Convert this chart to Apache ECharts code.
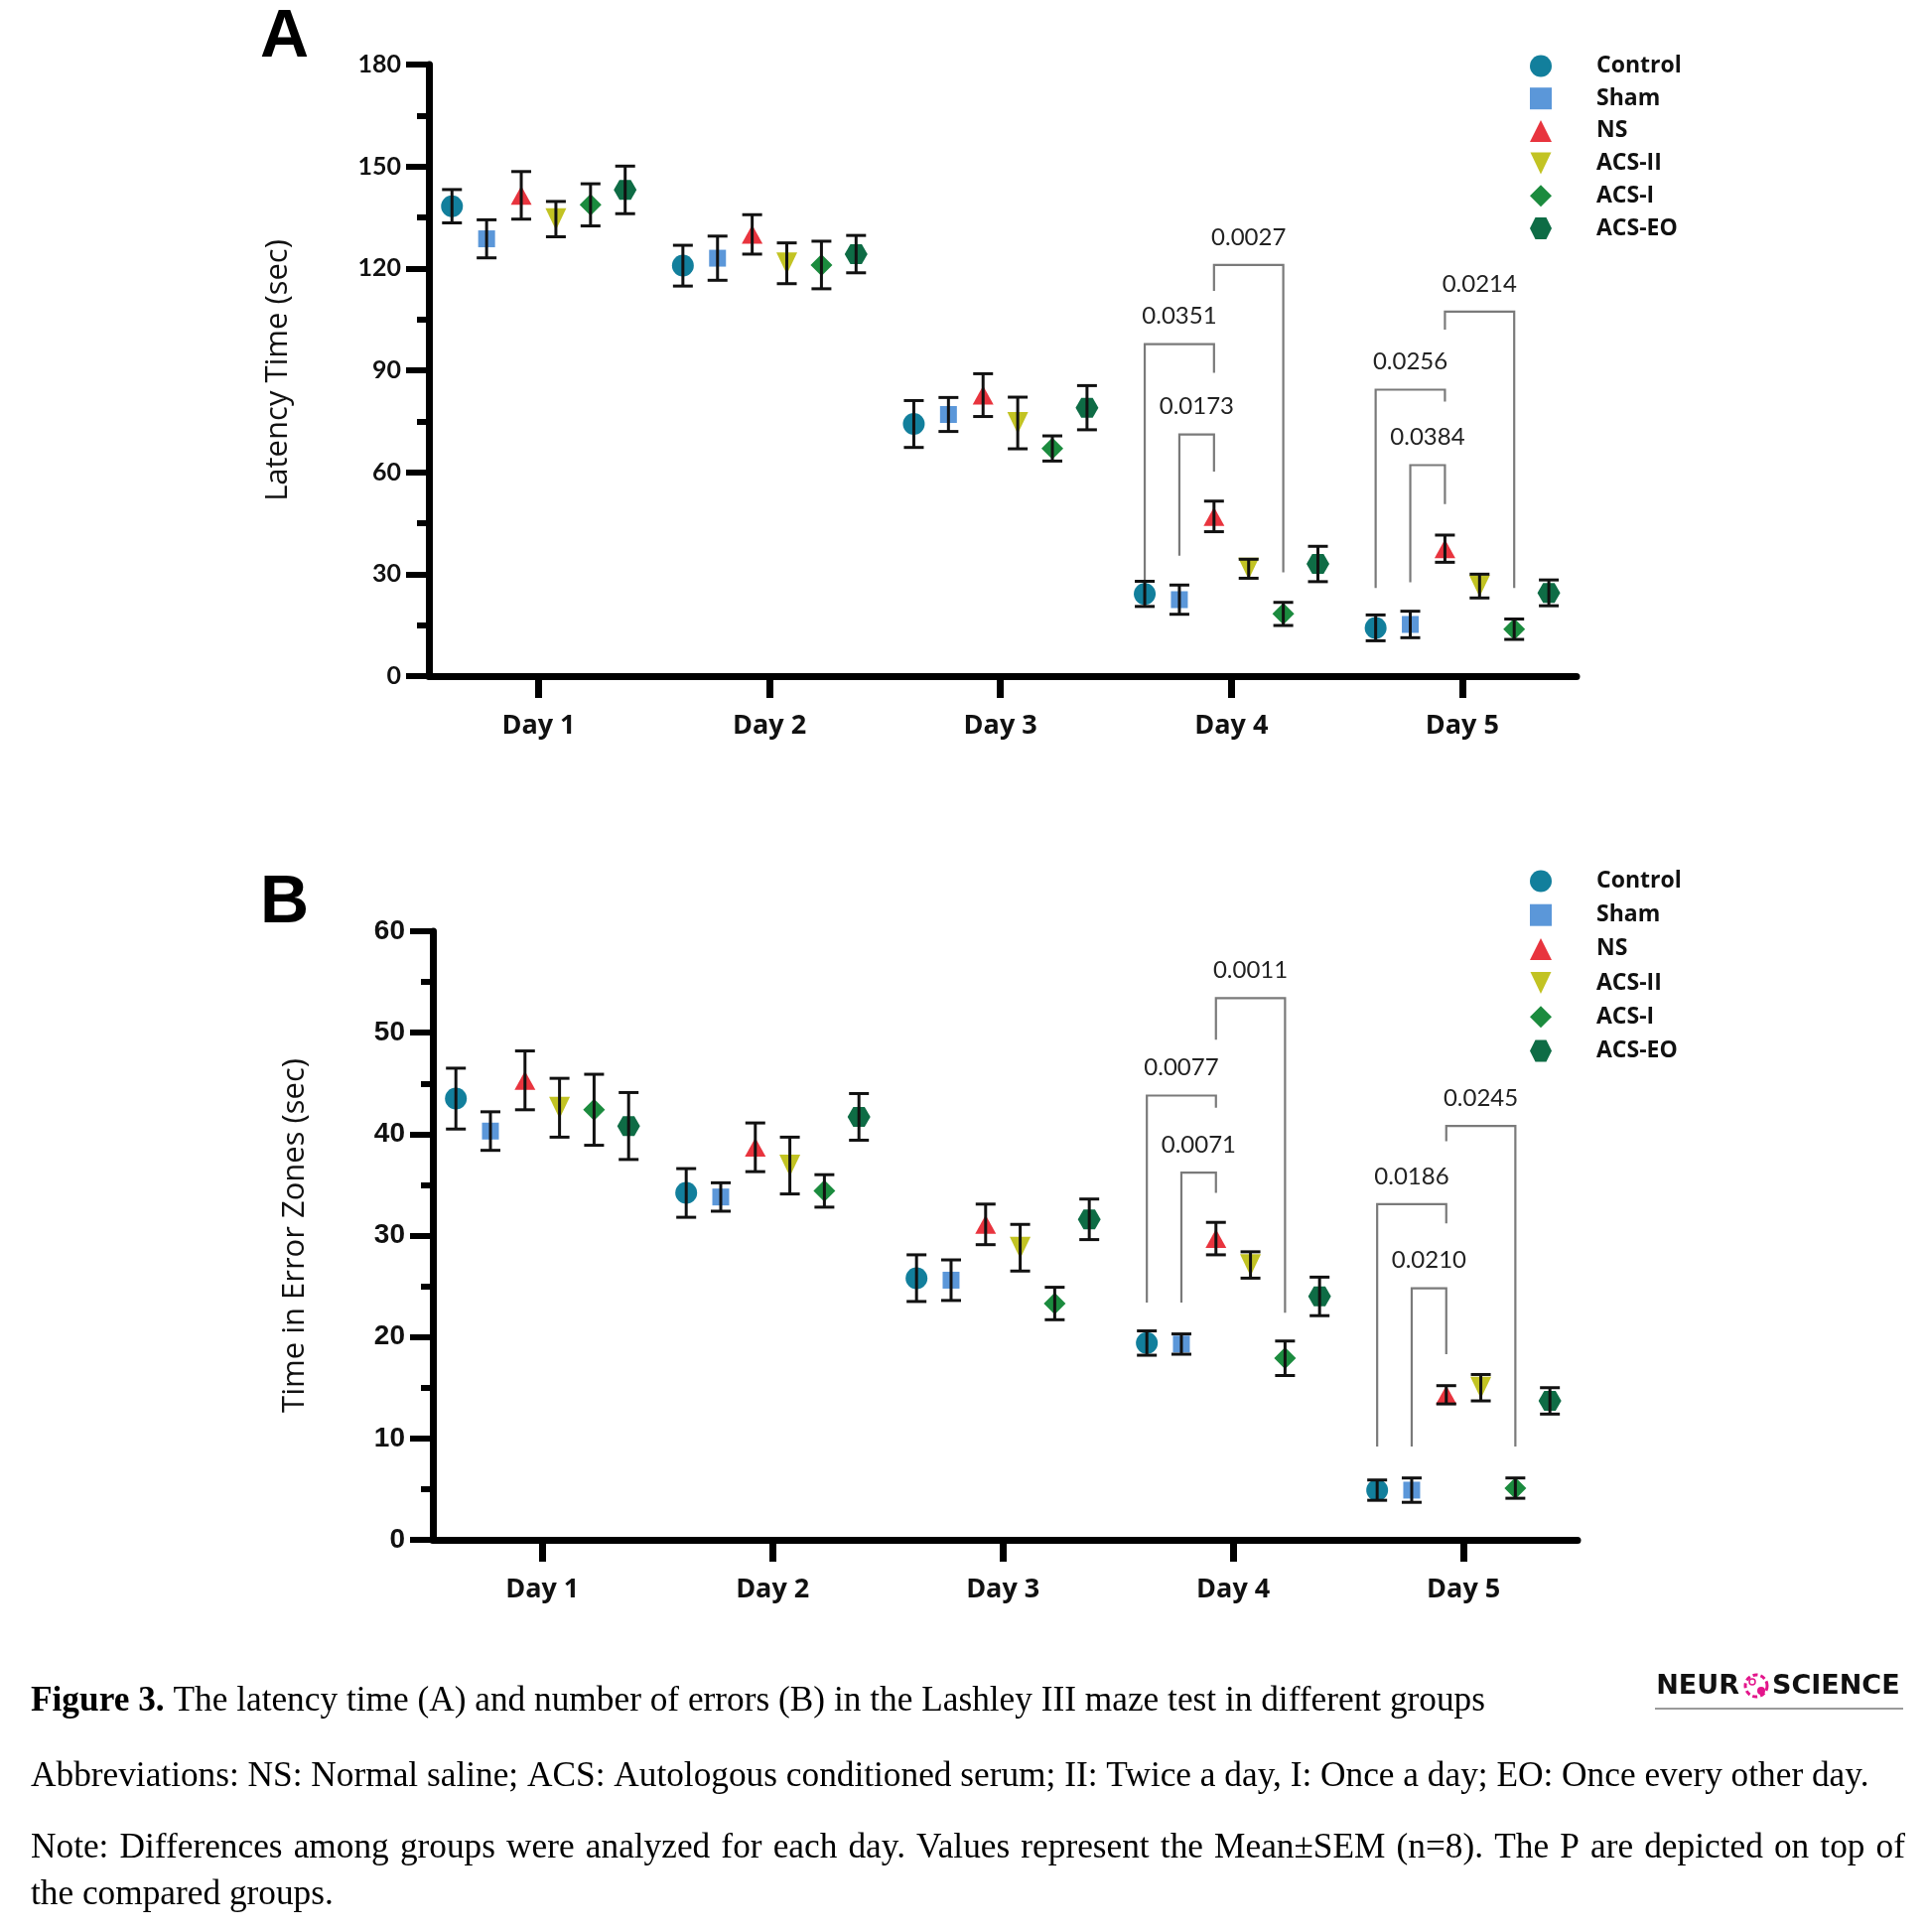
<!DOCTYPE html>
<html><head><meta charset="utf-8">
<script src="https://cdn.jsdelivr.net/npm/echarts@6/dist/echarts.min.js"></script>
<style>html,body{margin:0;padding:0;background:#fff}#chart{width:1941px;height:1946px}</style>
</head><body><div id="chart"></div>
<script>
// ---------- data ----------
const groups = ['Control', 'Sham', 'NS', 'ACS-II', 'ACS-I', 'ACS-EO'];
const days = [1, 2, 3, 4, 5];
const dayLabels = ['Day 1', 'Day 2', 'Day 3', 'Day 4', 'Day 5'];
const latencyTicks = [0, 30, 60, 90, 120, 150, 180];
const errorTicks = [0, 10, 20, 30, 40, 50, 60];

// Panel A: latency time (sec), mean per day
const latControl = [138.3, 120.8, 74.2, 24.2, 14.2];
const latSham    = [128.7, 123.0, 77.0, 22.5, 15.2];
const latNS      = [141.5, 130.0, 82.7, 47.0, 37.5];
const latACSII   = [134.5, 121.5, 74.5, 31.6, 26.5];
const latACSI    = [138.7, 121.0, 67.0, 18.3, 13.8];
const latACSEO   = [143.1, 124.2, 79.0, 33.0, 24.5];
// Panel A: SEM
const latControlSem = [4.9, 6.0, 6.9, 3.7, 3.8];
const latShamSem    = [5.6, 6.5, 5.0, 4.3, 3.9];
const latNSSem      = [7.0, 5.8, 6.3, 4.5, 4.0];
const latACSIISem   = [5.2, 6.0, 7.6, 2.8, 3.5];
const latACSISem    = [6.2, 7.0, 3.7, 3.4, 3.0];
const latACSEOSem   = [7.0, 5.5, 6.5, 5.2, 3.8];

// Panel B: time in error zones (sec), mean per day
const errControl = [43.5, 34.2, 25.8, 19.4, 4.9];
const errSham    = [40.3, 33.8, 25.6, 19.3, 4.9];
const errNS      = [45.3, 38.7, 31.1, 29.7, 14.3];
const errACSII   = [42.6, 36.9, 28.8, 27.1, 15.0];
const errACSI    = [42.4, 34.4, 23.3, 17.9, 5.1];
const errACSEO   = [40.8, 41.7, 31.6, 24.0, 13.7];
// Panel B: SEM
const errControlSem = [3.0, 2.4, 2.3, 1.2, 1.0];
const errShamSem    = [1.9, 1.4, 2.0, 1.0, 1.2];
const errNSSem      = [2.9, 2.4, 2.0, 1.6, 0.9];
const errACSIISem   = [2.9, 2.8, 2.3, 1.3, 1.3];
const errACSISem    = [3.5, 1.6, 1.6, 1.7, 1.0];
const errACSEOSem   = [3.3, 2.3, 2.0, 1.9, 1.3];

// significance brackets: [day, fromGroup, toGroup, bracketTop, leftLegEnd, rightLegEnd]
const latBrackets = [
  [4, 0, 2, 97.7, 27.6, 89.3],
  [4, 1, 2, 71.1, 35.4, 60.2],
  [4, 2, 4, 121.0, 113.4, 30.5],
  [5, 0, 2, 84.3, 25.9, 80.8],
  [5, 1, 2, 62.1, 27.6, 50.6],
  [5, 2, 4, 107.3, 102.0, 25.9]
];
const latPValues = ['0.0351', '0.0173', '0.0027', '0.0256', '0.0384', '0.0214'];
const errBrackets = [
  [4, 0, 2, 43.8, 23.4, 42.6],
  [4, 1, 2, 36.2, 23.4, 34.2],
  [4, 2, 4, 53.4, 49.3, 22.4],
  [5, 0, 2, 33.1, 9.2, 31.2],
  [5, 1, 2, 24.8, 9.2, 18.3],
  [5, 2, 4, 40.8, 39.3, 9.2]
];
const errPValues = ['0.0077', '0.0071', '0.0011', '0.0186', '0.0210', '0.0245'];

const captionLine1 = '{b|Figure 3.} The latency time (A) and number of errors (B) in the Lashley III maze test in different groups';
const captionLine2 = 'Abbreviations: NS: Normal saline; ACS: Autologous conditioned serum; II: Twice a day, I: Once a day; EO: Once every other day.';
const captionLine3 = 'Note: Differences among groups were analyzed for each day. Values represent the Mean\u00b1SEM (n=8). The P are depicted on top of';
const captionLine4 = 'the compared groups.';

// ---------- styles ----------
const groupOffsets = [-0.375, -0.225, -0.075, 0.075, 0.225, 0.375];
const groupColors = ['#127f9c', '#5b97d9', '#e8343e', '#c2c323', '#1b8b3e', '#0e6c45'];
const groupSymbols = ['circle', 'rect', 'triangle', 'path://M0,0 L20,0 L10,21 Z', 'diamond',
  'path://M0,50 L25,0 L75,0 L100,50 L75,100 L25,100 Z'];
const groupSizes = [22, 17, [21, 19], [21, 22], [22, 22], [23, 20]];

const latMeans = [latControl, latSham, latNS, latACSII, latACSI, latACSEO];
const latSems = [latControlSem, latShamSem, latNSSem, latACSIISem, latACSISem, latACSEOSem];
const errMeans = [errControl, errSham, errNS, errACSII, errACSI, errACSEO];
const errSems = [errControlSem, errShamSem, errNSSem, errACSIISem, errACSISem, errACSEOSem];

function errorBarRender(params, api) {
  const x = api.value(0), m = api.value(1), s = api.value(2);
  const t = api.coord([x, m + s]), b = api.coord([x, m - s]);
  const hw = 10;
  const st = { stroke: '#111', lineWidth: 3 };
  return { type: 'group', children: [
    { type: 'line', shape: { x1: t[0], y1: t[1], x2: b[0], y2: b[1] }, style: st },
    { type: 'line', shape: { x1: t[0] - hw, y1: t[1], x2: t[0] + hw, y2: t[1] }, style: st },
    { type: 'line', shape: { x1: b[0] - hw, y1: b[1], x2: b[0] + hw, y2: b[1] }, style: st }
  ]};
}
function bracketRender(labels) {
  return function (params, api) {
    const xl = api.value(0), xr = api.value(1), top = api.value(2), le = api.value(3), re = api.value(4);
    const p1 = api.coord([xl, le]), p2 = api.coord([xl, top]), p3 = api.coord([xr, top]), p4 = api.coord([xr, re]);
    return { type: 'group', children: [
      { type: 'polyline', shape: { points: [p1, p2, p3, p4] }, style: { stroke: '#7a7a7a', lineWidth: 2.2, fill: null } },
      { type: 'text', style: { text: labels[params.dataIndex], x: (p2[0] + p3[0]) / 2, y: p2[1] - 28,
        textAlign: 'center', textVerticalAlign: 'middle', fontFamily: 'Lato', fontSize: 24, fill: '#222' } }
    ]};
  };
}

const series = [];
function addPanel(idx, means, sems, brackets, pvals) {
  groups.forEach((g, gi) => {
    series.push({
      type: 'scatter', name: g, xAxisIndex: idx, yAxisIndex: idx,
      symbol: groupSymbols[gi], symbolSize: groupSizes[gi], symbolKeepAspect: false,
      itemStyle: { color: groupColors[gi], opacity: 1 },
      data: days.map((d, di) => [d + groupOffsets[gi], means[gi][di]]),
      z: 3, silent: true
    });
  });
  groups.forEach((g, gi) => {
    series.push({
      type: 'custom', xAxisIndex: idx, yAxisIndex: idx, z: 4, silent: true,
      renderItem: errorBarRender,
      encode: { x: 0, y: [1] },
      data: days.map((d, di) => [d + groupOffsets[gi], means[gi][di], sems[gi][di]])
    });
  });
  series.push({
    type: 'custom', xAxisIndex: idx, yAxisIndex: idx, z: 2, silent: true,
    renderItem: bracketRender(pvals),
    encode: { x: [0, 1], y: [2] },
    data: brackets.map(b => [b[0] + groupOffsets[b[1]], b[0] + groupOffsets[b[2]], b[3], b[4], b[5]])
  });
}
addPanel(0, latMeans, latSems, latBrackets, latPValues);
addPanel(1, errMeans, errSems, errBrackets, errPValues);

function xAxisCfg(idx) {
  return {
    type: 'value', gridIndex: idx, min: 0.525, max: 5.495,
    axisLine: { show: true, lineStyle: { color: '#000', width: 7 } },
    axisTick: { show: true, customValues: days, length: 22, lineStyle: { color: '#000', width: 7 } },
    axisLabel: { show: true, customValues: days, margin: 37, fontFamily: 'Open Sans', fontWeight: 'bold', fontSize: 27, color: '#111',
      formatter: v => dayLabels[days.indexOf(v)] },
    splitLine: { show: false }
  };
}
function yAxisCfg(idx, ticks, name, gap, labelFont) {
  return {
    type: 'value', gridIndex: idx, min: ticks[0], max: ticks[ticks.length - 1], interval: ticks[1] - ticks[0],
    name: name, nameLocation: 'middle', nameGap: gap,
    nameTextStyle: { fontFamily: 'Open Sans', fontSize: 31, color: '#111' },
    axisLine: { show: true, lineStyle: { color: '#000', width: 7 } },
    axisTick: { show: true, length: 23, lineStyle: { color: '#000', width: 6 } },
    minorTick: { show: true, splitNumber: 2, length: 12, lineStyle: { color: '#000', width: 6 } },
    axisLabel: Object.assign({ margin: 28, color: '#111' }, labelFont),
    splitLine: { show: false }
  };
}

const capCtx = document.createElement('canvas').getContext('2d');
capCtx.font = '100px "Liberation Serif"';
const capSize = Math.round(100 * 1851 / capCtx.measureText(captionLine2).width * 10) / 10;
const capStyle = { fontFamily: 'Liberation Serif', fontSize: capSize, fill: '#000', textVerticalAlign: 'middle', textAlign: 'left' };

// justified line: distribute words over the target width
function justifiedLine(text, x, y, width) {
  capCtx.font = capSize + 'px "Liberation Serif"';
  const words = text.split(' ');
  const widths = words.map(w => capCtx.measureText(w).width);
  const total = widths.reduce((a, b) => a + b, 0);
  const gap = (width - total) / (words.length - 1);
  const out = [];
  let cx = x;
  words.forEach((w, i) => {
    out.push({ type: 'text', style: Object.assign({ text: w, x: cx, y: y }, capStyle) });
    cx += widths[i] + gap;
  });
  return out;
}

const legendText = { fontFamily: 'Open Sans', fontWeight: 'bold', fontSize: 23, color: '#111', padding: [0, 0, 0, 40] };

const option = {
  animation: false,
  backgroundColor: '#fff',
  grid: [
    { left: 432, top: 65, width: 1156, height: 616 },
    { left: 436, top: 938, width: 1153, height: 613 }
  ],
  xAxis: [xAxisCfg(0), xAxisCfg(1)],
  yAxis: [
    yAxisCfg(0, latencyTicks, 'Latency Time (sec)', 136, { fontFamily: 'Lato', fontWeight: 'bold', fontSize: 25 }),
    yAxisCfg(1, errorTicks, 'Time in Error Zones (sec)', 123, { fontFamily: 'Liberation Sans', fontWeight: 'bold', fontSize: 28 })
  ],
  legend: [
    { left: 1541, top: 55, orient: 'vertical', itemWidth: 22, itemHeight: 22, itemGap: 9.7, padding: 0,
      selectedMode: false, data: groups, textStyle: legendText },
    { left: 1541, top: 876, orient: 'vertical', itemWidth: 22, itemHeight: 22, itemGap: 11.2, padding: 0,
      selectedMode: false, data: groups, textStyle: legendText }
  ],
  series: series,
  graphic: [
    { type: 'text', style: { text: 'A', x: 262, y: 38, fontFamily: 'Liberation Sans', fontWeight: 'bold', fontSize: 68, fill: '#000', textVerticalAlign: 'middle' } },
    { type: 'text', style: { text: 'B', x: 262, y: 910, fontFamily: 'Liberation Sans', fontWeight: 'bold', fontSize: 68, fill: '#000', textVerticalAlign: 'middle' } },
    { type: 'text', style: Object.assign({ text: captionLine1, x: 31, y: 1714, rich: { b: { fontFamily: 'Liberation Serif', fontWeight: 'bold', fontSize: capSize, fill: '#000' } } }, capStyle) },
    { type: 'text', style: Object.assign({ text: captionLine2, x: 31, y: 1790 }, capStyle) },
    ...justifiedLine(captionLine3, 31, 1862, 1888),
    { type: 'text', style: Object.assign({ text: captionLine4, x: 31, y: 1909 }, capStyle) },
    { type: 'text', style: { text: 'NEUR', x: 1752, y: 1699, textAlign: 'right', textVerticalAlign: 'middle', fontFamily: 'DejaVu Sans', fontWeight: 'bold', fontSize: 27, fill: '#111' } },
    { type: 'text', style: { text: 'SCIENCE', x: 1785, y: 1699, textAlign: 'left', textVerticalAlign: 'middle', fontFamily: 'DejaVu Sans', fontWeight: 'bold', fontSize: 27, fill: '#111' } },
    { type: 'circle', shape: { cx: 1769, cy: 1698, r: 11 }, style: { fill: null, stroke: '#e3158b', lineWidth: 3, lineDash: [5, 3] } },
    { type: 'circle', shape: { cx: 1774, cy: 1703, r: 4 }, style: { fill: '#e3158b' } },
    { type: 'circle', shape: { cx: 1765, cy: 1694, r: 3 }, style: { fill: null, stroke: '#e3158b', lineWidth: 1.5 } },
    { type: 'line', shape: { x1: 1667, y1: 1721, x2: 1917, y2: 1721 }, style: { stroke: '#9a9a9a', lineWidth: 2 } }
  ]
};

const chart = echarts.init(document.getElementById('chart'), null, { renderer: 'canvas' });
chart.setOption(option);
</script>
</body></html>
